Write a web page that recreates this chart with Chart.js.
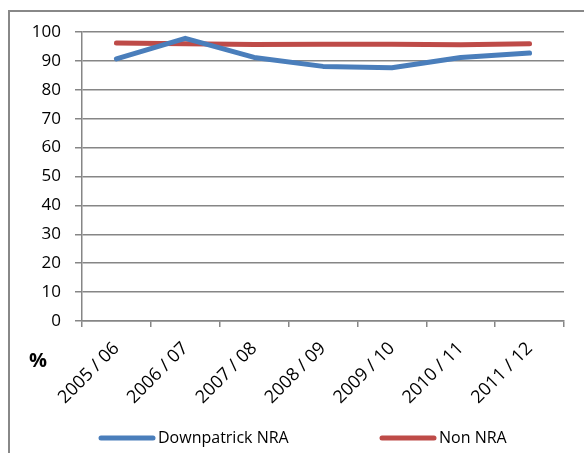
<!DOCTYPE html>
<html>
<head>
<meta charset="utf-8">
<script src="https://cdn.jsdelivr.net/npm/chart.js@4/dist/chart.umd.min.js"></script>
<style>
  html, body { margin: 0; padding: 0; background: #fff; overflow: hidden; }
  #frame { position: absolute; left: 8px; top: 10px; width: 700px; height: 600px; border: 2px solid #888; }
  #wrap { position: absolute; left: 0; top: 0; width: 584px; height: 453px; }
</style>
</head>
<body>
<div id="frame"></div>
<div id="wrap"><canvas id="rateChart"></canvas></div>
<script>
// Chart data
const years = ["2005 / 06", "2006 / 07", "2007 / 08", "2008 / 09", "2009 / 10", "2010 / 11", "2011 / 12"];
const downpatrick = [90.7, 97.8, 91.2, 88.1, 87.6, 91.2, 92.7];
const nonNra = [96.2, 95.9, 95.7, 95.8, 95.8, 95.6, 95.9];
const yTicks = [0, 10, 20, 30, 40, 50, 60, 70, 80, 90, 100];

const fontName = "'Open Sans', 'Liberation Sans', sans-serif";

// "%" label under the y ticks, and an Excel style legend at the bottom
const extraText = {
    id: "extraText",
    afterDraw: function (chart) {
        const c = chart.ctx;
        c.save();
        c.font = "bold 20px " + fontName;
        c.fillStyle = "#000";
        c.textAlign = "center";
        c.textBaseline = "middle";
        c.fillText("%", 38, 361);

        const starts = [99, 380];
        const y = 438;
        c.font = "16px " + fontName;
        c.textAlign = "left";
        chart.data.datasets.forEach(function (ds, i) {
            const x = starts[i];
            c.strokeStyle = ds.borderColor;
            c.lineWidth = 5;
            c.lineCap = "round";
            c.beginPath();
            c.moveTo(x + 2, y);
            c.lineTo(x + 54, y);
            c.stroke();
            c.fillStyle = "#000";
            c.fillText(ds.label, x + 59, y);
        });
        c.restore();
    },
};

function initRateChart() {
    const ctx = document.getElementById("rateChart");
    if (!ctx) return;

    new Chart(ctx, {
        type: "line",
        data: {
            labels: years,
            datasets: [
                {
                    label: "Downpatrick NRA",
                    data: downpatrick,
                    borderColor: "#4a7ebb",
                    backgroundColor: "#4a7ebb",
                    borderWidth: 5,
                    pointRadius: 0,
                    tension: 0,
                    borderCapStyle: "round",
                    borderJoinStyle: "round",
                },
                {
                    label: "Non NRA",
                    data: nonNra,
                    borderColor: "#be4b48",
                    backgroundColor: "#be4b48",
                    borderWidth: 5,
                    pointRadius: 0,
                    tension: 0,
                    borderCapStyle: "round",
                    borderJoinStyle: "round",
                },
            ],
        },
        options: {
            responsive: true,
            maintainAspectRatio: false,
            animation: false,
            layout: { padding: { left: 0, right: 20, top: 32, bottom: 0 } },
            scales: {
                x: {
                    offset: true,
                    grid: {
                        offset: true,
                        drawOnChartArea: false,
                        drawTicks: true,
                        tickLength: 6,
                        color: "#868686",
                        lineWidth: 1.5,
                    },
                    border: { color: "#868686", width: 1.5 },
                    ticks: {
                        color: "#000",
                        font: { family: fontName, size: 18 },
                        minRotation: 45,
                        maxRotation: 45,
                        padding: 11,
                    },
                    afterFit: function (scale) {
                        scale.height = 132;
                    },
                },
                y: {
                    min: 0,
                    max: 100,
                    afterBuildTicks: function (scale) {
                        scale.ticks = yTicks.map(function (v) { return { value: v }; });
                    },
                    grid: {
                        color: "#868686",
                        lineWidth: 1.5,
                        tickLength: 7,
                    },
                    border: { color: "#868686", width: 1.5 },
                    ticks: {
                        color: "#000",
                        font: { family: fontName, size: 17 },
                        padding: 14,
                    },
                    afterFit: function (scale) {
                        scale.width = 82;
                    },
                },
            },
            plugins: {
                legend: { display: false },
                tooltip: { enabled: false },
            },
        },
        plugins: [extraText],
    });
}

document.addEventListener("DOMContentLoaded", initRateChart);
</script>
</body>
</html>
